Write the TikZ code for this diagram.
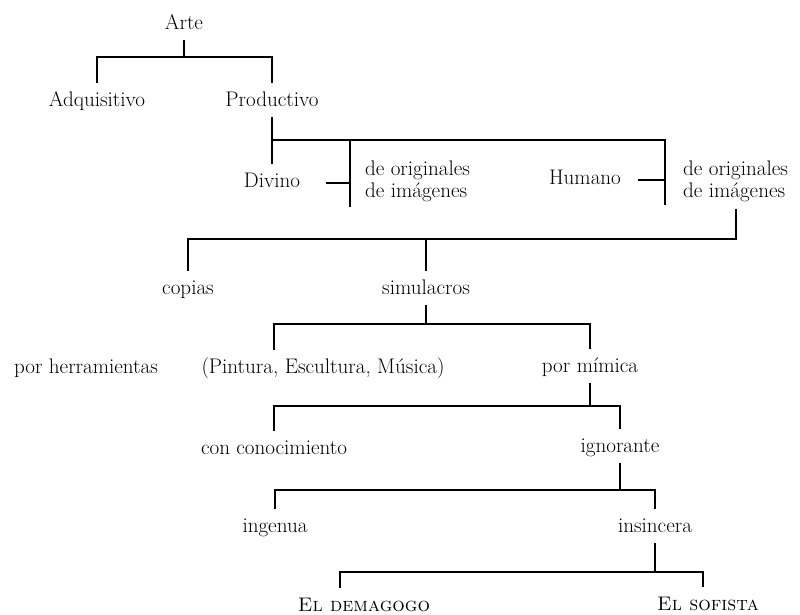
\documentclass[tikz,border=0pt]{standalone}
\usetikzlibrary{calc}
\tikzset{
  lab/.style={inner xsep=2pt, inner ysep=4pt, text height=10pt, text depth=3pt, font=\fontsize{15}{17}\selectfont},
  scap/.style={lab, font=\fontsize{14}{16}\selectfont\scshape},
  two/.style={inner sep=2pt, align=left, anchor=west, font=\fontsize{15}{15.5}\selectfont},
  stm/.style={line width=1.3pt},
  brk/.style={stm, shorten <=3pt, shorten >=3pt},
  tie/.style={stm, shorten <=#1}
}
\newcommand{\fork}[4]{%
  \draw[stm] (#1) -- (#1 |- 0,#4);
  \draw[brk] (#2) |- (#3 |- 0,#4) -- (#3);}

\begin{document}
\begin{tikzpicture}[x=0.025cm, y=-0.025cm]
	\useasboundingbox (0,0) rectangle (800,615);
	\node[lab] (arte) at (184,25) {Arte};
	\node[lab] (adq) at (97,102) {Adquisitivo};
	\node[lab] (prod) at (272,102) {Productivo};
	\node[lab] (divino) at (272,183) {Divino};
	\node[two] (divorig) at (362,181) {de originales\\de imágenes};
	\node[lab] (humano) at (585,180) {Humano};
	\node[two] (humorig) at (680,181) {de originales\\de imágenes};
	\node[lab] (copias) at (188,290) {copias};
	\node[lab] (simul) at (426,290) {simulacros};
	\node[lab] (herram) at (86,369) {por herramientas};
	\node[lab] (pintura) at (323,369) {(Pintura, Escultura, Música)};
	\node[lab] (mimica) at (590,368) {por mímica};
	\node[lab] (conoc) at (274,450) {con conocimiento};
	\node[lab] (ignor) at (620,448) {ignorante};
	\node[lab] (ingenua) at (275,528) {ingenua};
	\node[lab] (insinc) at (655,528) {insincera};
	\node[scap] (demag) at (364,607) {El demagogo};
	\node[scap] (sofista) at (708,606) {El sofista};
	\coordinate (dtop) at (350,140);
	\coordinate (dbot) at (350,207);
	\coordinate (htop) at (665,140);
	\coordinate (hbot) at (665,205);
	\coordinate (pint) at (pintura.north -| conoc);
	\coordinate (demx) at (demag.north -| 340,0);
	\coordinate (sofx) at (sofista.north -| 703,0);
	\fork{arte}{adq.north}{prod.north}{57}
	\draw[stm, shorten >=3pt] (prod) -- (divino);
	\draw[stm] (prod |- dtop) -- (htop) -- (hbot);
	\draw[stm] (dtop) -- (dbot);
	\draw[tie=16pt] (divino) -- (divino -| dtop);
	\draw[tie=10pt] (humano) -- (humano -| htop);
	\draw[brk] (humorig.south) -- (humorig.south |- 0,239) -| (copias.north);
	\draw[stm, shorten >=3pt] (simul.north |- 0,239) -- (simul.north);
	\fork{simul}{pint}{mimica.north}{324}
	\fork{mimica}{conoc.north}{ignor.north}{406}
	\fork{ignor}{ingenua.north}{insinc.north}{490}
	\fork{insinc}{demx}{sofx}{572}
\end{tikzpicture}
\end{document}
